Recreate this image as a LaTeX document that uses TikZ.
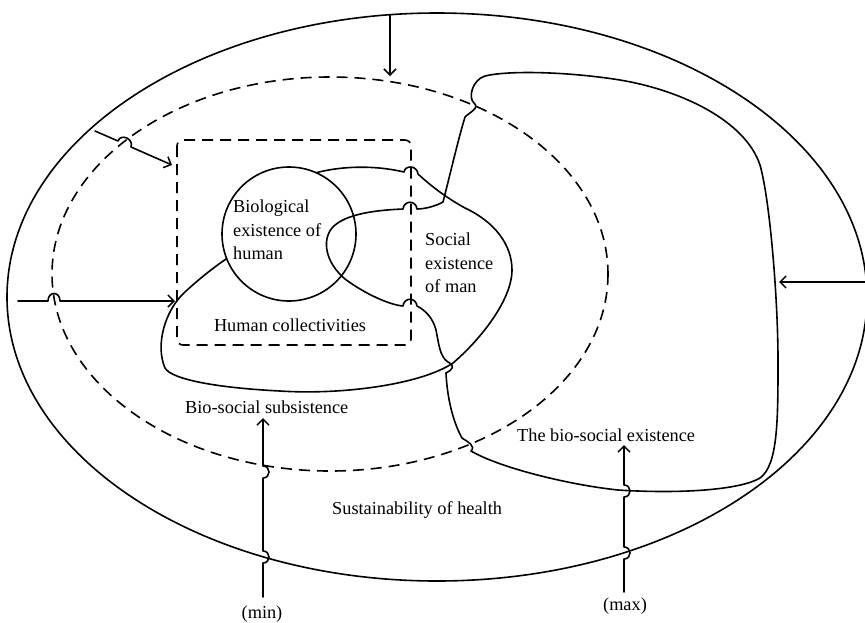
\documentclass[tikz,border=0pt]{standalone}
\usepackage{fontspec}
\setmainfont{Liberation Serif}
\usetikzlibrary{arrows.meta}
\begin{document}
\begin{tikzpicture}[x=1pt,y=-1pt,
  ln/.style={line width=1.6pt,line join=round,line cap=round},
  dsh/.style={line width=1.6pt,dash pattern=on 11pt off 7pt},
  arr/.style={ln,-{Straight Barb[length=6pt,width=12pt,line width=1.5pt]}},
  lbl/.style={inner sep=0pt,font=\fontsize{18.3}{23.5}\selectfont}]
\useasboundingbox (0,0) rectangle (865,622);
\fill[white] (0,0) rectangle (865,622);

% outer region and the dashed inner region
\draw[ln] (437,297) ellipse[x radius=430, y radius=284];
\draw[dsh] (330,274) ellipse[x radius=278, y radius=197];
\draw[dsh,rounded corners=6pt] (177,140) rectangle (411,345);

% human collectivities outline (partly hidden by the circle)
\draw[ln] (300,178) .. controls (330,166) and (370,164) .. (404,172)
  .. controls (405,165) and (417,165) .. (418,174)
  .. controls (430,185) and (445,197) .. (465,208)
  .. controls (495,222) and (512,245) .. (512,270)
  .. controls (512,300) and (480,340) .. (453,363)
  .. controls (420,385) and (340,395) .. (280,391)
  .. controls (220,388) and (172,380) .. (165,368)
  .. controls (155,345) and (165,310) .. (185,292)
  .. controls (200,278) and (220,262) .. (240,250);

% biological existence
\draw[ln,fill=white] (289,234) circle[radius=67];

% bio-social existence outline
\draw[ln] (443,202)
  .. controls (436,206) and (425,209) .. (417,209)
  .. controls (416,200) and (404,200) .. (403,209)
  .. controls (380,210) and (345,213) .. (332,228)
  .. controls (322,240) and (325,262) .. (345,279)
  .. controls (365,294) and (390,305) .. (403,306)
  .. controls (404,297) and (416,297) .. (417,306)
  .. controls (425,310) and (433,318) .. (436,330)
  .. controls (439,345) and (440,357) .. (448,362)
  .. controls (456,366) and (452,370) .. (446,373)
  .. controls (447,395) and (452,420) .. (462,438)
  .. controls (468,442) and (476,446) .. (471,451)
  .. controls (500,468) and (570,485) .. (618,490)
  .. controls (680,494) and (740,490) .. (760,478)
  .. controls (778,465) and (778,420) .. (778,360)
  .. controls (778,300) and (770,200) .. (760,165)
  .. controls (745,120) and (680,90) .. (620,80)
  .. controls (570,72) and (510,70) .. (485,76)
  .. controls (472,80) and (468,98) .. (474,103)
  .. controls (480,108) and (470,112) .. (465,117)
  .. controls (458,140) and (450,175) .. (443,202) -- cycle;

% arrow end points
\coordinate (topS) at (390,15);
\coordinate (topE) at (390,76);
\coordinate (ulS) at (95,131);
\coordinate (ulE) at (172,165);
\coordinate (lS) at (18,301);
\coordinate (lE) at (175,301);
\coordinate (rS) at (866,282);
\coordinate (rE) at (779,282);
\coordinate (minS) at (263,597);
\coordinate (minE) at (263,418);
\coordinate (maxS) at (624,592);
\coordinate (maxE) at (624,445);

% arrows, hopping over the lines they cross
\draw[arr] (topS) -- (topE);
\draw[arr] (ulS) -- (118,141) .. controls (121,133) and (134,139) .. (131,147) -- (ulE);
\draw[arr] (lS) -- (48,301) .. controls (48,291) and (60,291) .. (60,301) -- (lE);
\draw[arr] (rS) -- (rE);
\draw[arr] (minS) -- (263,563) .. controls (271,563) and (271,551) .. (263,551)
  -- (263,478) .. controls (271,478) and (271,466) .. (263,466) -- (minE);
\draw[arr] (maxS) -- (624,559) .. controls (632,559) and (632,547) .. (624,547)
  -- (624,497) .. controls (632,497) and (632,485) .. (624,485) -- (maxE);

% labels
\node[lbl,align=left,anchor=north west] (bio) at (233,200) {Biological\\existence of\\human};
\node[lbl,align=left,anchor=north west] (soc) at (425,233) {Social\\existence\\of man};
\node[lbl,anchor=base] (hc) at (290,331) {Human collectivities};
\node[lbl,anchor=base west] (bss) at (185,413) {Bio-social subsistence};
\node[lbl,anchor=base west] (sh) at (332,514) {Sustainability of health};
\node[lbl,anchor=base west] (bse) at (517,441) {The bio-social existence};
\node[lbl,anchor=base] (mn) at (262,618) {(min)};
\node[lbl,anchor=base] (mx) at (625,610) {(max)};
\end{tikzpicture}
\end{document}
